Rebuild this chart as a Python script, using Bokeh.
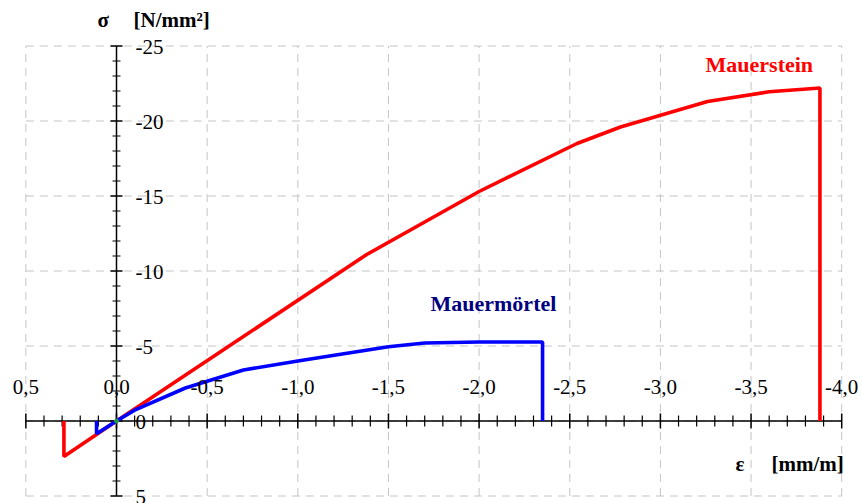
from bokeh.plotting import figure
from bokeh.models import Range1d, Label
from bokeh.embed import file_html
from bokeh.resources import INLINE

# ---- data ----
stein_eps = [0.29, 0.29, 0.0, -1.38, -2.0, -2.54, -2.78, -3.26, -3.6, -3.88, -3.88]
stein_sig = [0.0, 2.37, 0.0, -11.1, -15.3, -18.5, -19.6, -21.3, -21.95, -22.2, 0.0]

moertel_eps = [0.11, 0.11, 0.0, -0.1, -0.38, -0.7, -1.0, -1.5, -1.7, -2.0, -2.35, -2.35]
moertel_sig = [0.0, 0.85, 0.0, -0.72, -2.2, -3.4, -4.0, -4.95, -5.2, -5.27, -5.27, 0.0]

x_major = [0.5, 0.0, -0.5, -1.0, -1.5, -2.0, -2.5, -3.0, -3.5, -4.0]
x_labels = ["0,5", "0,0", "-0,5", "-1,0", "-1,5", "-2,0", "-2,5", "-3,0", "-3,5", "-4,0"]
x_minor = [0.4, 0.3, 0.2, 0.1, -0.1, -0.2, -0.3, -0.4, -0.6, -0.7, -0.8, -0.9,
           -1.1, -1.2, -1.3, -1.4, -1.6, -1.7, -1.8, -1.9, -2.1, -2.2, -2.3, -2.4,
           -2.6, -2.7, -2.8, -2.9, -3.1, -3.2, -3.3, -3.4, -3.6, -3.7, -3.8, -3.9]

y_major = [5, 0, -5, -10, -15, -20, -25]
y_labels = ["5", "0", "-5", "-10", "-15", "-20", "-25"]
y_minor = [4, 3, 2, 1, -1, -2, -3, -4, -6, -7, -8, -9, -11, -12, -13, -14,
           -16, -17, -18, -19, -21, -22, -23, -24]

X_LO, X_HI = 0.5, -4.0      # drawn extent of the diagram (epsilon)
Y_LO, Y_HI = 5, -25         # drawn extent of the diagram (sigma)

SERIF = "Liberation Serif"

# pixel geometry of the diagram inside the canvas
W, H = 862, 503
OX, KX = 116.0, 181.3       # canvas px of epsilon = 0, px per unit
OY, KY = 420.5, 15.0        # canvas px of sigma = 0, px per unit
LIFT = 8.5 / KY             # text baseline correction (upwards = more negative sigma)

p = figure(width=W, height=H,
           x_range=Range1d(OX / KX, (OX - W) / KX),
           y_range=Range1d((H - OY) / KY, -OY / KY),
           x_axis_type=None, y_axis_type=None,
           output_backend="svg", toolbar_location=None,
           min_border=0)
p.outline_line_color = None
p.xgrid.visible = False
p.ygrid.visible = False

# dashed grid
p.segment(x0=x_major, x1=x_major, y0=[Y_LO] * len(x_major), y1=[Y_HI] * len(x_major),
          line_color="#c4c4c4", line_dash="8 6", line_width=1)
p.segment(x0=[X_LO] * len(y_major), x1=[X_HI] * len(y_major), y0=y_major, y1=y_major,
          line_color="#c4c4c4", line_dash="8 6", line_width=1)

# axis lines through the origin
p.segment(x0=[X_LO], x1=[X_HI], y0=[0], y1=[0], line_color="black", line_width=1.5)
p.segment(x0=[0], x1=[0], y0=[Y_LO], y1=[Y_HI], line_color="black", line_width=1.5)

# ticks (lengths in px converted to data units)
tx_maj, tx_min = 7.5 / KY, 5.5 / KY
ty_maj, ty_min = 6.0 / KX, 4.0 / KX
p.segment(x0=x_major, x1=x_major, y0=[-tx_maj] * len(x_major), y1=[tx_maj] * len(x_major),
          line_color="black", line_width=1.5)
p.segment(x0=x_minor, x1=x_minor, y0=[-tx_min] * len(x_minor), y1=[tx_min] * len(x_minor),
          line_color="black", line_width=1.2)
p.segment(x0=[-ty_maj] * len(y_major), x1=[ty_maj] * len(y_major), y0=y_major, y1=y_major,
          line_color="black", line_width=1.5)
p.segment(x0=[-ty_min] * len(y_minor), x1=[ty_min] * len(y_minor), y0=y_minor, y1=y_minor,
          line_color="black", line_width=1.2)

# curves
p.line(stein_eps, stein_sig, line_color="#ff0000", line_width=3.6)
p.line(moertel_eps, moertel_sig, line_color="#0000ff", line_width=3.6)
p.scatter([0.0], [0.0], size=4, color="#1e9e3a")


# texts
def lab(x, y, t, color="black", size="21px", bold=True, align="left"):
    p.add_layout(Label(x=x, y=y - LIFT, text=t, text_font=SERIF, text_font_size=size,
                       text_font_style="bold" if bold else "normal", text_color=color,
                       text_align=align, text_baseline="alphabetic"))


# tick labels: x labels above the horizontal axis, y labels right of the vertical axis
for v, s in zip(x_major, x_labels):
    lab(v, -25.5 / KY, s, bold=False, align="center")
for v, s in zip(y_major, y_labels):
    lab(-19.0 / KX, v + 9.0 / KY, s, bold=False, align="left")

# axis titles and curve names
lab(0.1048, -26.17, "σ")
lab(-0.0938, -26.17, "[N/mm²]")
lab(-3.414, 3.43, "ε")
lab(-3.613, 3.43, "[mm/m]")
lab(-3.249, -23.17, "Mauerstein", color="#ff0000", size="22px")
lab(-1.732, -7.3, "Mauermörtel", color="#000080", size="22px")

open("out.html", "w").write(file_html(p, INLINE))
